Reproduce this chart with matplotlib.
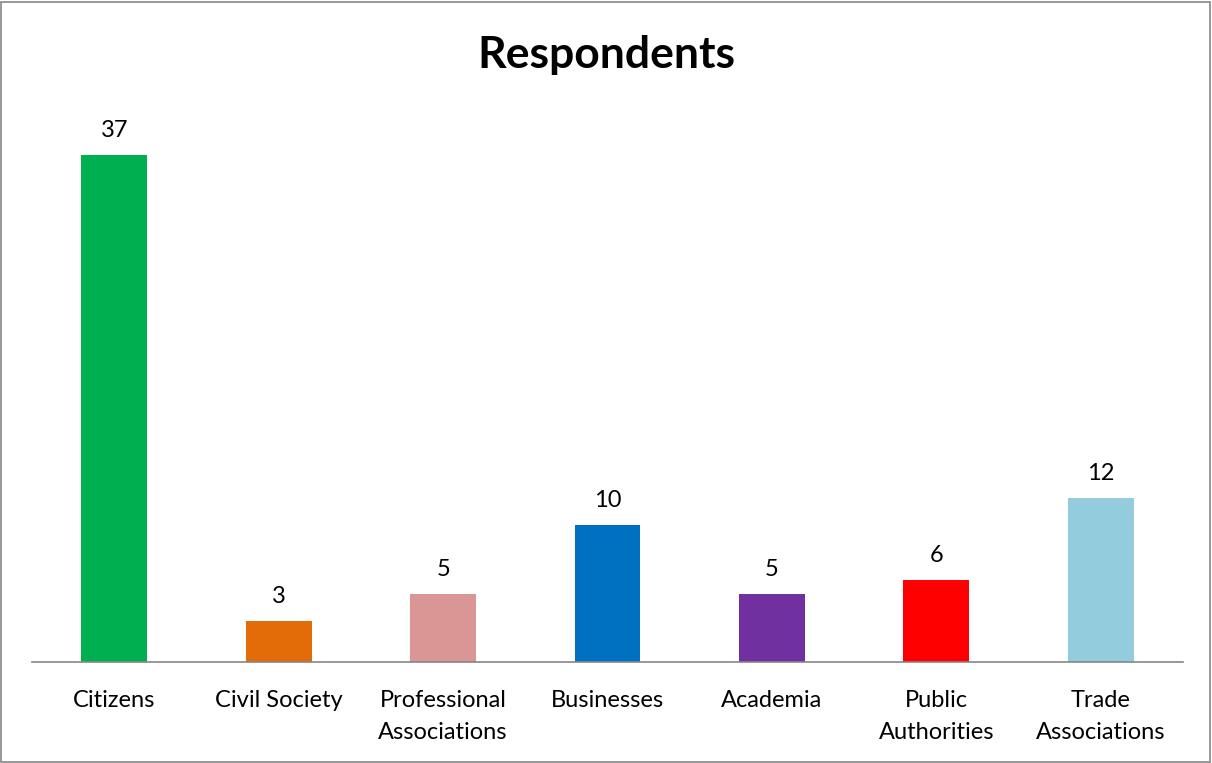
import matplotlib
matplotlib.use("Agg")
import matplotlib.pyplot as plt
from matplotlib.patches import Rectangle

categories = ["Citizens", "Civil Society", "Professional\nAssociations", "Businesses",
              "Academia", "Public\nAuthorities", "Trade\nAssociations"]
values = [37, 3, 5, 10, 5, 6, 12]
colors = ["#00B050", "#E36C09", "#D99694", "#0070C0", "#7030A0", "#FF0000", "#93CDDD"]

plt.rcParams['font.family'] = ['Lato', 'DejaVu Sans']

fig = plt.figure(figsize=(12.12, 7.63), dpi=100)
ax = fig.add_axes([32/1212, 1 - 662/763, (1183-32)/1212, (662-114)/763])

x = range(len(categories))
bars = ax.bar(x, values, width=0.40, color=colors)
for xi, v in zip(x, values):
    ax.text(xi, v + 1.0, str(v), ha='center', va='bottom', fontsize=17)

ax.set_xlim(-0.5, len(categories) - 0.5)
ax.set_ylim(0, 40)
ax.set_xticks(list(x))
ax.set_xticklabels(categories, fontsize=17, linespacing=1.65)
ax.tick_params(axis='x', length=0, pad=20)
ax.set_yticks([])
for s in ['top', 'right', 'left']:
    ax.spines[s].set_visible(False)
ax.spines['bottom'].set_color('#868686')
ax.spines['bottom'].set_linewidth(1.2)

fig.text(0.5, 1 - 55/763, "Respondents", ha='center', va='center', fontsize=32, fontweight='bold')

fig.patches.append(Rectangle((0.001, 0.001), 0.997, 0.997, transform=fig.transFigure,
                             fill=False, edgecolor='#868686', linewidth=1.2))

fig.savefig("out.png", dpi=100)
